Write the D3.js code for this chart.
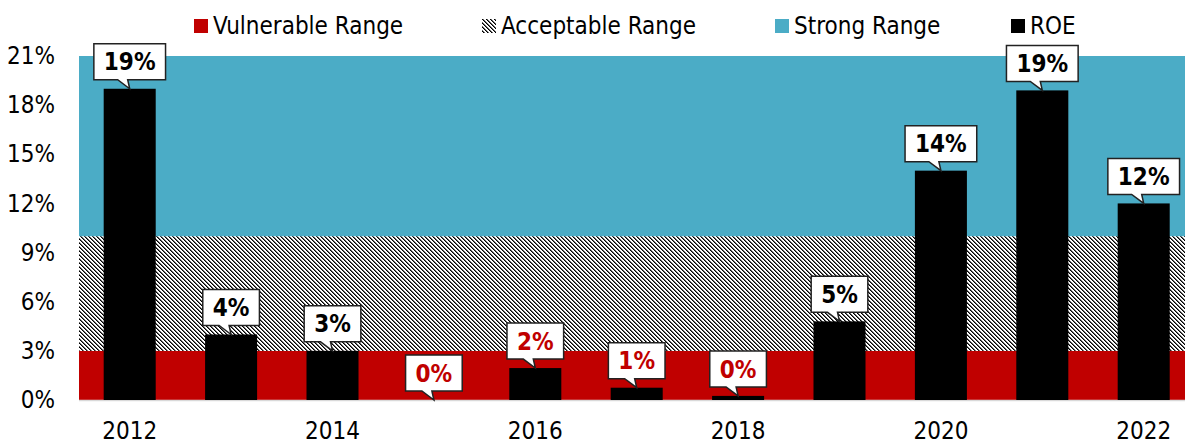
<!DOCTYPE html>
<html>
<head>
<meta charset="utf-8">
<script src="https://cdn.jsdelivr.net/npm/d3@7"></script>
<style>
  body { margin: 0; background: #fff; }
  svg text { font-family: 'DejaVu Sans Condensed', 'DejaVu Sans', sans-serif; font-stretch: condensed; }
</style>
</head>
<body>
<svg id="chart" width="1185" height="447"></svg>
<script>
// chart data
const years = ['2012', '2013', '2014', '2015', '2016', '2017', '2018', '2019', '2020', '2021', '2022'];
const roe = [19.0, 4.0, 3.0, 0.0, 1.95, 0.75, 0.25, 4.8, 14.0, 18.9, 12.0];
const yTicks = [0, 3, 6, 9, 12, 15, 18, 21];
const xTickYears = ['2012', '2014', '2016', '2018', '2020', '2022'];

// ranges behind the bars
const ranges = [
  { name: 'Vulnerable Range', from: 0, to: 3, fill: '#C00000' },
  { name: 'Acceptable Range', from: 3, to: 10, fill: 'url(#hatch)' },
  { name: 'Strong Range', from: 10, to: 21, fill: '#4BACC6' }
];

const svg = d3.select('#chart');
const plotLeft = 79, plotTop = 56, plotBottom = 400;

const x = d3.scaleBand()
  .domain(years)
  .range([plotLeft, plotLeft + 11 * 101.4])
  .paddingInner(0.487)
  .paddingOuter(0.2435);

const y = d3.scaleLinear()
  .domain([0, 21])
  .range([plotBottom, plotTop]);

// hatch pattern: pixel diagonal steps, 4px apart
const defs = svg.append('defs');
const pat = defs.append('pattern')
  .attr('id', 'hatch')
  .attr('patternUnits', 'userSpaceOnUse')
  .attr('width', 4)
  .attr('height', 4);
pat.append('rect').attr('width', 4).attr('height', 4).attr('fill', '#fff');
[0, 1, 2, 3].forEach(k => {
  pat.append('rect')
    .attr('x', k).attr('y', k)
    .attr('width', 1).attr('height', 1)
    .attr('fill', '#000')
    .attr('shape-rendering', 'crispEdges');
  pat.append('rect')
    .attr('x', (k + 1) % 4).attr('y', k)
    .attr('width', 1).attr('height', 1)
    .attr('fill', '#666')
    .attr('shape-rendering', 'crispEdges');
});

svg.selectAll('rect.range')
  .data(ranges)
  .enter()
  .append('rect')
  .attr('class', 'range')
  .attr('x', plotLeft)
  .attr('width', 1185 - plotLeft)
  .attr('y', d => y(d.to))
  .attr('height', d => y(d.from) - y(d.to))
  .attr('fill', d => d.fill);

// baseline
svg.append('line')
  .attr('x1', plotLeft).attr('x2', 1185)
  .attr('y1', y(0) + 0.5).attr('y2', y(0) + 0.5)
  .attr('stroke', '#d9d9d9')
  .attr('stroke-width', 1.5);

// bars
svg.selectAll('rect.bar')
  .data(roe)
  .enter()
  .append('rect')
  .attr('class', 'bar')
  .attr('x', (d, i) => x(years[i]))
  .attr('width', x.bandwidth())
  .attr('y', d => y(d))
  .attr('height', d => y(0) - y(d))
  .attr('fill', '#000');

// y axis
const yAxis = d3.axisLeft(y)
  .tickValues(yTicks)
  .tickFormat(d => d + '%')
  .tickSize(0)
  .tickPadding(24);
svg.append('g')
  .attr('transform', `translate(${plotLeft},0)`)
  .call(yAxis)
  .call(g => g.attr('font-family', null).attr('font-size', null))
  .call(g => g.select('.domain').remove())
  .selectAll('text')
  .attr('font-size', 24)
  .attr('fill', '#000');

// x axis
const xAxis = d3.axisBottom(x)
  .tickValues(xTickYears)
  .tickSize(0)
  .tickPadding(22);
svg.append('g')
  .attr('transform', `translate(0,${plotBottom})`)
  .call(xAxis)
  .call(g => g.attr('font-family', null).attr('font-size', null))
  .call(g => g.select('.domain').remove())
  .selectAll('text')
  .attr('font-size', 24)
  .attr('fill', '#000');

// callout labels
const callouts = svg.selectAll('g.callout')
  .data(roe)
  .enter()
  .append('g')
  .attr('class', 'callout');

callouts.each(function (d, i) {
  const g = d3.select(this);
  const cx = x(years[i]) + x.bandwidth() / 2;
  const tip = y(d);
  const boxBottom = tip - 9;
  const h = 36;
  const txt = g.append('text')
    .text(Math.round(d) + '%')
    .attr('x', cx)
    .attr('y', boxBottom - h / 2)
    .attr('dy', '0.36em')
    .attr('text-anchor', 'middle')
    .attr('font-size', 24)
    .attr('font-weight', 'bold')
    .attr('fill', d < 3 ? '#C00000' : '#000');
  const w = txt.node().getComputedTextLength() + 20;
  const l = cx - w / 2, t = boxBottom - h;
  g.insert('path', 'text')
    .attr('d', `M${l},${t} H${l + w} V${boxBottom} H${cx - 2} L${cx},${tip} L${cx - 12},${boxBottom} H${l} Z`)
    .attr('fill', '#fff')
    .attr('stroke', '#222')
    .attr('stroke-width', 1.5);
});

// legend
const legendItems = [
  { name: 'Vulnerable Range', fill: '#C00000', x: 194 },
  { name: 'Acceptable Range', fill: 'url(#hatch)', x: 482 },
  { name: 'Strong Range', fill: '#4BACC6', x: 775 },
  { name: 'ROE', fill: '#000', x: 1011 }
];
const legend = svg.selectAll('g.legend')
  .data(legendItems)
  .enter()
  .append('g')
  .attr('class', 'legend')
  .attr('transform', d => `translate(${d.x},19)`);
legend.append('rect')
  .attr('width', 14)
  .attr('height', 14)
  .attr('fill', d => d.fill);
legend.append('text')
  .attr('x', 19)
  .attr('y', 15)
  .attr('font-size', 24)
  .text(d => d.name);
</script>
</body>
</html>
